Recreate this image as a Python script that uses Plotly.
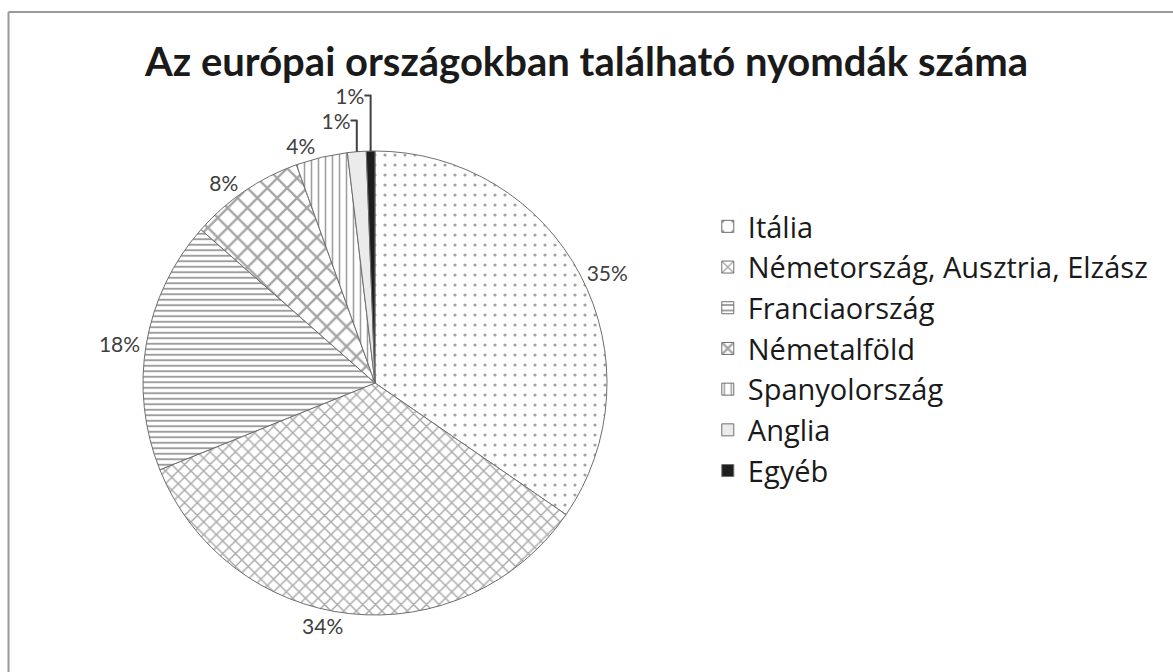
import plotly.graph_objects as go

categories = ["Itália", "Németország, Ausztria, Elzász", "Franciaország",
              "Németalföld", "Spanyolország", "Anglia", "Egyéb"]
values = [34.6, 34.3, 17.6, 8.0, 3.6, 1.3, 0.6]
title_text = "Az európai országokban található nyomdák száma"

shapes = [".", "x", "-", "x", "|", "", ""]
bgcols = ["white", "white", "white", "white", "white", "#ebebeb", "#1e1e1e"]
fgcols = ["#444444", "#555555", "#3c3c3c", "#4a4a4a", "#3c3c3c", "#ebebeb", "#1e1e1e"]
psizes = [10, 9, 5.5, 14, 7, 8, 8]
psolid = [0.08, 0.3, 0.35, 0.3, 0.22, 0.3, 0.3]

fig = go.Figure(go.Pie(
    labels=categories,
    values=values,
    sort=False,
    direction="clockwise",
    rotation=0,
    textposition="outside",
    texttemplate="%{percent:.0%}",
    textfont=dict(family="Lato", size=21, color="#404040"),
    marker=dict(
        colors=bgcols,
        line=dict(color="#6e6e6e", width=1),
        pattern=dict(shape=shapes, fgcolor=fgcols, bgcolor=bgcols,
                     size=psizes, solidity=psolid, fillmode="overlay"),
    ),
    domain=dict(x=[143/1173, 607/1173], y=[(289-232)/672, (289+232)/672]),
    showlegend=True,
    hoverinfo="label+percent",
))

fig.update_layout(
    width=1173, height=672,
    margin=dict(l=0, r=0, t=0, b=0),
    paper_bgcolor="white",
    font=dict(family="Open Sans", color="#1a1a1a"),
    title=dict(text="<b>" + title_text + "</b>", x=0.5, xanchor="center",
               y=1 - 62/672, yanchor="middle",
               font=dict(family="Lato", size=40, color="#1a1a1a")),
    legend=dict(x=0.6034, xanchor="left", y=1 - 201/672, yanchor="top",
                font=dict(family="Open Sans", size=29, color="#1a1a1a"),
                bgcolor="rgba(0,0,0,0)", traceorder="normal"),
    shapes=[
        dict(type="line", xref="paper", yref="paper", x0=8.5/1173, x1=1.0,
             y0=1 - 12/672, y1=1 - 12/672, line=dict(color="#9a9a9a", width=2)),
        dict(type="line", xref="paper", yref="paper", x0=8.5/1173, x1=8.5/1173,
             y0=0, y1=1 - 12/672, line=dict(color="#9a9a9a", width=2)),
    ],
)

fig.write_html("out.html", config={"displayModeBar": False},
               post_script="document.body.style.margin='0';document.body.style.overflow='hidden';")
